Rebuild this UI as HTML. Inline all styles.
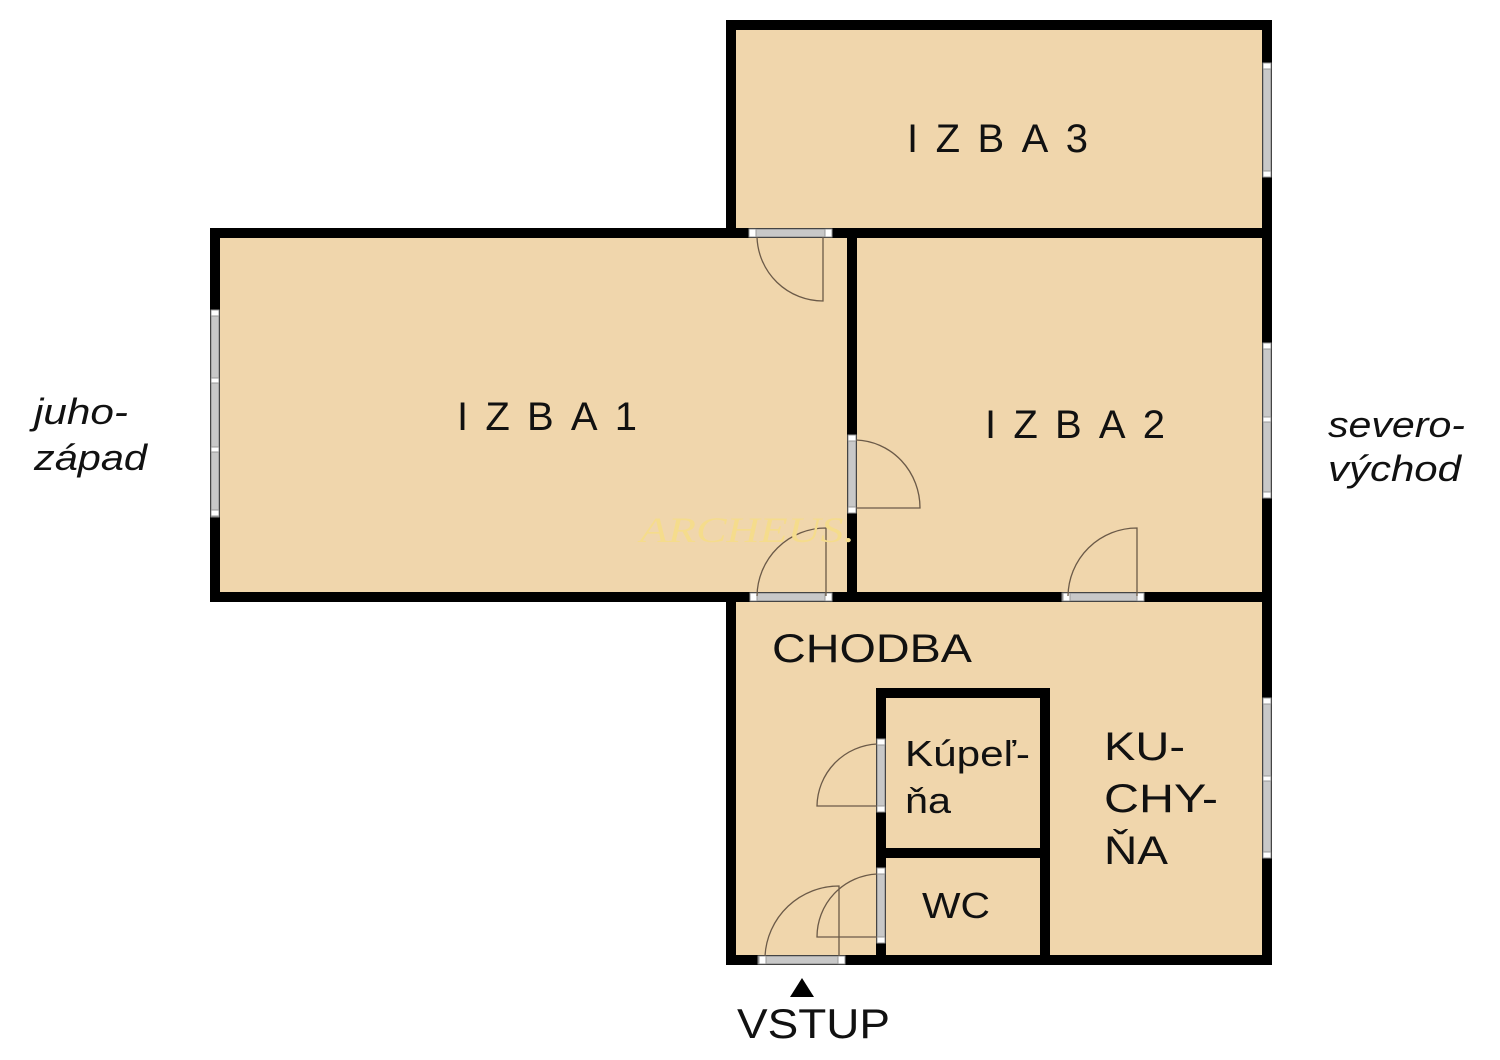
<!DOCTYPE html>
<html><head><meta charset="utf-8"><style>
html,body{margin:0;padding:0;background:#fff;}
svg{display:block}
text{font-family:"Liberation Sans",sans-serif;fill:#111}
</style></head><body>
<svg width="1500" height="1060" viewBox="0 0 1500 1060" xmlns="http://www.w3.org/2000/svg">
<g fill="#f0d6ac">
<rect x="726" y="20" width="546" height="218"/>
<rect x="210" y="228" width="1062" height="374"/>
<rect x="726" y="592" width="546" height="373"/>
</g>
<g fill="#000">
<rect x="726" y="20" width="546" height="10"/>
<rect x="726" y="20" width="10" height="218"/>
<rect x="1262" y="20" width="10" height="945"/>
<rect x="210" y="228" width="1062" height="10"/>
<rect x="210" y="228" width="10" height="374"/>
<rect x="210" y="592" width="1062" height="10"/>
<rect x="847" y="228" width="10" height="374"/>
<rect x="726" y="592" width="10" height="373"/>
<rect x="726" y="955" width="546" height="10"/>
<rect x="876" y="688" width="174" height="10"/>
<rect x="876" y="688" width="10" height="274"/>
<rect x="1040" y="688" width="10" height="274"/>
<rect x="876" y="848" width="174" height="10"/>
</g>
<g fill="#c8c8c8" stroke="#888" stroke-width="1">
<rect x="211" y="310" width="8" height="207"/>
<rect x="1263" y="63" width="8" height="114"/>
<rect x="1263" y="343" width="8" height="155"/>
<rect x="1263" y="698" width="8" height="160"/>
<rect x="750" y="229" width="80" height="8"/>
<rect x="848" y="435" width="8" height="77"/>
<rect x="752" y="593" width="78" height="8"/>
<rect x="1062" y="593" width="82" height="8"/>
<rect x="877" y="740" width="8" height="70"/>
<rect x="877" y="868" width="8" height="74"/>
<rect x="758" y="956" width="86" height="8"/>
</g>
<g fill="#fff" stroke="#999" stroke-width="1">
<rect x="211" y="310" width="8" height="6"/><rect x="211" y="378" width="8" height="5"/><rect x="211" y="447" width="8" height="5"/><rect x="211" y="510" width="8" height="6"/>
<rect x="1263" y="63" width="8" height="6"/><rect x="1263" y="171" width="8" height="6"/>
<rect x="1263" y="343" width="8" height="6"/><rect x="1263" y="417" width="8" height="5"/><rect x="1263" y="492" width="8" height="6"/>
<rect x="1263" y="698" width="8" height="6"/><rect x="1263" y="776" width="8" height="5"/><rect x="1263" y="852" width="8" height="6"/>
<rect x="749" y="229" width="7" height="8"/><rect x="825" y="229" width="7" height="8"/>
<rect x="848" y="435" width="8" height="6"/><rect x="848" y="507" width="8" height="6"/>
<rect x="750" y="593" width="7" height="8"/><rect x="825" y="593" width="7" height="8"/>
<rect x="1063" y="593" width="7" height="8"/><rect x="1137" y="593" width="7" height="8"/>
<rect x="877" y="739" width="8" height="6"/><rect x="877" y="806" width="8" height="6"/>
<rect x="877" y="868" width="8" height="6"/><rect x="877" y="937" width="8" height="6"/>
<rect x="759" y="956" width="7" height="8"/><rect x="838" y="956" width="7" height="8"/>
</g>
<g fill="none" stroke="#6b5a48" stroke-width="1.3">
<path d="M757 237 A66 66 0 0 0 823 301 L823 237"/>
<path d="M856 440 A66 68 0 0 1 920 508 L856 508"/>
<path d="M757 596 A69 69 0 0 1 826 528 L826 596"/>
<path d="M1068 596 A69 69 0 0 1 1137 528 L1137 596"/>
<path d="M877 744 A63 63 0 0 0 817 806 L877 806"/>
<path d="M877 874 A63 63 0 0 0 817 937 L877 937"/>
<path d="M765 956 A74 74 0 0 1 839 886 L839 956"/>
</g>
<text x="640" y="542" font-size="36" font-style="italic" style="fill:#f5dc8c;font-family:'Liberation Serif',serif" textLength="215" lengthAdjust="spacingAndGlyphs">ARCHEUS.</text>
<text x="907" y="152" font-size="40" textLength="181" lengthAdjust="spacing">IZBA3</text>
<text x="457" y="430" font-size="40" textLength="180" lengthAdjust="spacing">IZBA1</text>
<text x="985" y="438" font-size="40" textLength="180" lengthAdjust="spacing">IZBA2</text>
<text x="772" y="662" font-size="40" textLength="200" lengthAdjust="spacingAndGlyphs">CHODBA</text>
<text x="905" y="766" font-size="36" textLength="125" lengthAdjust="spacingAndGlyphs">Kúpeľ-</text>
<text x="905" y="813" font-size="36" textLength="46" lengthAdjust="spacingAndGlyphs">ňa</text>
<text x="1104" y="760" font-size="40" textLength="81" lengthAdjust="spacingAndGlyphs">KU-</text>
<text x="1104" y="812" font-size="40" textLength="114" lengthAdjust="spacingAndGlyphs">CHY-</text>
<text x="1104" y="864" font-size="40" textLength="64" lengthAdjust="spacingAndGlyphs">ŇA</text>
<text x="922" y="918" font-size="36" textLength="68" lengthAdjust="spacingAndGlyphs">WC</text>
<polygon points="802,978 790,997 814,997" fill="#000"/>
<text x="737" y="1038" font-size="42" textLength="153" lengthAdjust="spacingAndGlyphs">VSTUP</text>
<text x="34" y="424" font-size="36" font-style="italic" textLength="94" lengthAdjust="spacingAndGlyphs">juho-</text>
<text x="34" y="470" font-size="36" font-style="italic" textLength="113" lengthAdjust="spacingAndGlyphs">západ</text>
<text x="1328" y="437" font-size="36" font-style="italic" textLength="137" lengthAdjust="spacingAndGlyphs">severo-</text>
<text x="1328" y="481" font-size="36" font-style="italic" textLength="133" lengthAdjust="spacingAndGlyphs">východ</text>
</svg>
</body></html>
